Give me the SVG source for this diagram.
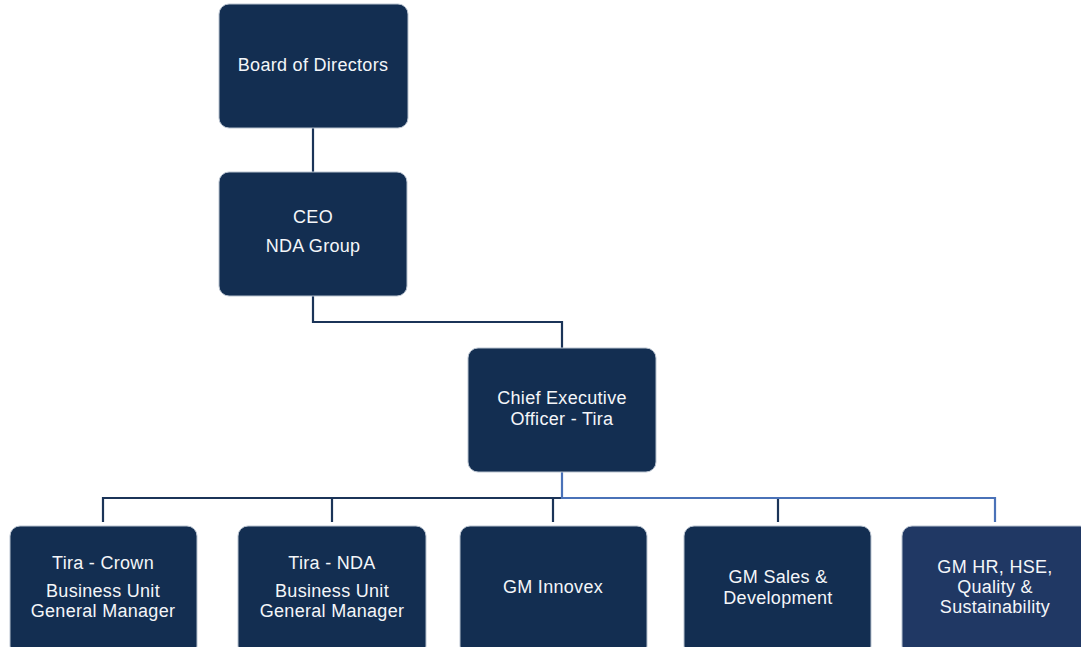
<svg xmlns="http://www.w3.org/2000/svg" width="1081" height="647" viewBox="0 0 1081 647">
<style>
.box{fill:#132e51;stroke:#b9c3d0;stroke-width:1}
.box2{fill:#203864;stroke:#b9c3d0;stroke-width:1}
.t{font-family:"Liberation Sans",Arial,sans-serif;font-size:18px;letter-spacing:0.3px;fill:#f4f6f9;text-anchor:middle}
.dk{fill:none;stroke:#1b3458;stroke-width:2.2}
.bl{fill:none;stroke:#4a72b8;stroke-width:2.2}
</style>
<rect width="1081" height="647" fill="#ffffff"/>
<g id="connectors">
<path class="dk" d="M313 128V172"/>
<path class="dk" d="M313 296V322H562V348"/>
<path class="dk" d="M103 522V498H562"/>
<path class="dk" d="M332 498V522"/>
<path class="dk" d="M553 498V522"/>
<path class="dk" d="M778 498V522"/>
<path class="bl" d="M562 472V498H995V522"/>
</g>
<g id="board"><rect class="box" x="219" y="4" width="189" height="124" rx="10"/><text class="t" x="313" y="71">Board of Directors</text></g>
<g id="ceo-nda"><rect class="box" x="219" y="172" width="188" height="124" rx="10"/><text class="t" x="313" y="223">CEO</text><text class="t" x="313" y="252">NDA Group</text></g>
<g id="ceo-tira"><rect class="box" x="468" y="348" width="188" height="124" rx="10"/><text class="t" x="562" y="404">Chief Executive</text><text class="t" x="562" y="425">Officer - Tira</text></g>
<g id="crown"><rect class="box" x="10" y="526" width="187" height="130" rx="10"/><text class="t" x="103" y="569">Tira - Crown</text><text class="t" x="103" y="597">Business Unit</text><text class="t" x="103" y="617">General Manager</text></g>
<g id="nda"><rect class="box" x="238" y="526" width="188" height="130" rx="10"/><text class="t" x="332" y="569">Tira - NDA</text><text class="t" x="332" y="597">Business Unit</text><text class="t" x="332" y="617">General Manager</text></g>
<g id="innovex"><rect class="box" x="460" y="526" width="187" height="130" rx="10"/><text class="t" x="553" y="593">GM Innovex</text></g>
<g id="sales"><rect class="box" x="684" y="526" width="187" height="130" rx="10"/><text class="t" x="778" y="583">GM Sales &amp;</text><text class="t" x="778" y="604">Development</text></g>
<g id="hr"><rect class="box2" x="902" y="526" width="188" height="130" rx="10"/><text class="t" x="995" y="573">GM HR, HSE,</text><text class="t" x="995" y="593">Quality &amp;</text><text class="t" x="995" y="613">Sustainability</text></g>
</svg>
